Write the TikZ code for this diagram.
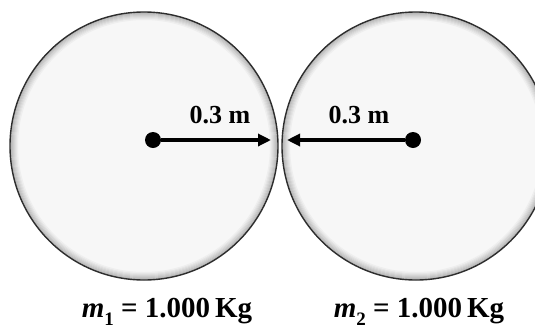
\documentclass[tikz,border=0pt]{standalone}
\usepackage{fontspec}
\setmainfont{Liberation Serif}
\usetikzlibrary{arrows.meta,positioning}
\newcommand{\massidx}[1]{\raisebox{-0.28em}{\fontsize{19}{19}\selectfont #1}}

\begin{document}
\begin{tikzpicture}[x=1pt,y=-1pt,
    mass/.style={circle, minimum size=268pt, inner sep=0pt, fill=gray!6, draw=gray!35!black, line width=1.4pt,
      path picture={\foreach \i [evaluate=\i as \c using int(62-7*\i)] in {0,...,7}
        \draw[gray!\c, line width=1.2pt] (path picture bounding box.center) circle[radius=133.6pt-\i pt];}},
    centre/.style={circle, fill=black, minimum size=16pt, inner sep=0pt},
    radline/.style={line width=3.2pt, -{Triangle[length=13pt,width=12pt]}},
    dist/.style={font=\fontsize{26}{26}\selectfont\bfseries, anchor=base, inner sep=0pt},
    masslabel/.style={font=\fontsize{29}{29}\selectfont\bfseries, anchor=base, inner sep=0pt}]
  \useasboundingbox (0,0) rectangle (535,330);

  \node[mass]   (m1) at (144,146) {};
  \node[mass]   (m2) at (416,146) {};
  \node[centre] (c1) at (153,140) {};
  \node[centre] (c2) at (413,140) {};
  \coordinate (t1) at (271,140);
  \coordinate (t2) at (287,140);

  \draw[radline] (c1) -- (t1);
  \draw[radline] (c2) -- (t2);

  \node[dist] (r1) at (220,123) {0.3 m};
  \node[dist] (r2) at (359,123) {0.3 m};

  \node[masslabel] (l1) at (167,317) {\textit{m}\massidx{1} = 1.000\,Kg};
  \node[masslabel] (l2) at (419,317) {\textit{m}\massidx{2} = 1.000\,Kg};
\end{tikzpicture}
\end{document}
